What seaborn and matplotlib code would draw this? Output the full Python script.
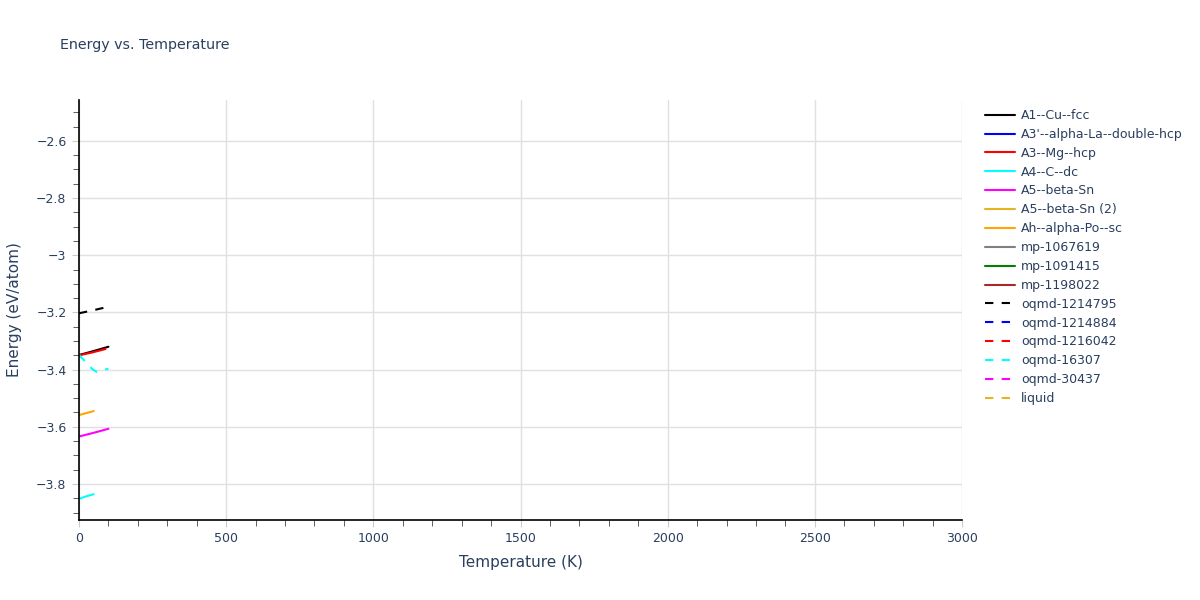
import matplotlib
matplotlib.use("Agg")
import matplotlib.pyplot as plt
import matplotlib.ticker as mticker
import seaborn as sns

# series names in legend order
names = ["A1--Cu--fcc", "A3'--alpha-La--double-hcp", "A3--Mg--hcp", "A4--C--dc",
         "A5--beta-Sn", "A5--beta-Sn (2)", "Ah--alpha-Po--sc", "mp-1067619",
         "mp-1091415", "mp-1198022", "oqmd-1214795", "oqmd-1214884",
         "oqmd-1216042", "oqmd-16307", "oqmd-30437", "liquid"]
colors = ["black", "blue", "red", "cyan", "magenta", "#E6B422", "orange", "grey",
          "green", "brown", "black", "blue", "red", "cyan", "magenta", "#E6B422"]
dashed = [False] * 10 + [True] * 6

# temperatures (K) and energies (eV/atom)
temps = {
    "A1--Cu--fcc": [0, 50, 100],
    "A3--Mg--hcp": [0, 45, 90],
    "A4--C--dc": [0, 25, 50],
    "A5--beta-Sn": [0, 50, 100],
    "Ah--alpha-Po--sc": [0, 25, 50],
    "oqmd-1214795": [0, 50, 100],
    "oqmd-16307": [0, 20, 45, 60, 80, 100],
}
energies = {
    "A1--Cu--fcc": [-3.349, -3.335, -3.320],
    "A3--Mg--hcp": [-3.350, -3.340, -3.328],
    "A4--C--dc": [-3.852, -3.843, -3.836],
    "A5--beta-Sn": [-3.634, -3.621, -3.607],
    "Ah--alpha-Po--sc": [-3.559, -3.552, -3.545],
    "oqmd-1214795": [-3.203, -3.192, -3.180],
    "oqmd-16307": [-3.349, -3.370, -3.398, -3.408, -3.402, -3.397],
}

sns.set_style("white")
plt.rcParams["font.family"] = ["DejaVu Sans"]
txt = "#2a3f5f"

fig = plt.figure(figsize=(12, 6), dpi=100)
ax = fig.add_axes([79 / 1200, 80 / 600, 883 / 1200, 420 / 600])

for name, col, dsh in zip(names, colors, dashed):
    ls = (0, (4, 4)) if dsh else "-"
    if name in temps:
        sns.lineplot(x=temps[name], y=energies[name], color=col, linewidth=1.5,
                     linestyle=ls, label=name, ax=ax, estimator=None, sort=False)
    else:
        ax.plot([], [], color=col, linewidth=1.5, linestyle=ls, label=name)

ax.set_xlim(0, 3000)
ax.set_ylim(-3.926, -2.457)
ax.xaxis.set_major_locator(mticker.MultipleLocator(500))
ax.xaxis.set_minor_locator(mticker.MultipleLocator(100))
ax.yaxis.set_major_locator(mticker.MultipleLocator(0.2))
ax.yaxis.set_minor_locator(mticker.MultipleLocator(0.05))
ax.yaxis.set_major_formatter(mticker.FuncFormatter(
    lambda v, p: ("%g" % round(v, 2)).replace("-", "\u2212")))

ax.grid(True, which="major", color="#e0e0e0", linewidth=1)
ax.set_axisbelow(True)
for s in ["top", "right"]:
    ax.spines[s].set_visible(False)
for s in ["left", "bottom"]:
    ax.spines[s].set_color("black")
    ax.spines[s].set_linewidth(1.2)

ax.tick_params(which="major", direction="out", length=5, color="#cccccc",
               labelsize=9, labelcolor=txt, left=True, bottom=True, pad=4)
ax.tick_params(which="minor", direction="out", length=4, color="#444444",
               left=True, bottom=True)

ax.set_xlabel("Temperature (K)", fontsize=11, color=txt, labelpad=7)
ax.set_ylabel("Energy (eV/atom)", fontsize=11, color=txt, labelpad=10)
fig.text(60 / 1200, 1 - 45 / 600, "Energy vs. Temperature", fontsize=10.3,
         color=txt, va="center")

leg = ax.legend(loc="upper left", bbox_to_anchor=(980 / 1200, 1 - 104 / 600),
                bbox_transform=fig.transFigure, frameon=False, fontsize=9,
                labelspacing=0.47, handlelength=2.4, handletextpad=0.5,
                borderaxespad=0)
for t in leg.get_texts():
    t.set_color(txt)

fig.savefig("out.png", dpi=100)
